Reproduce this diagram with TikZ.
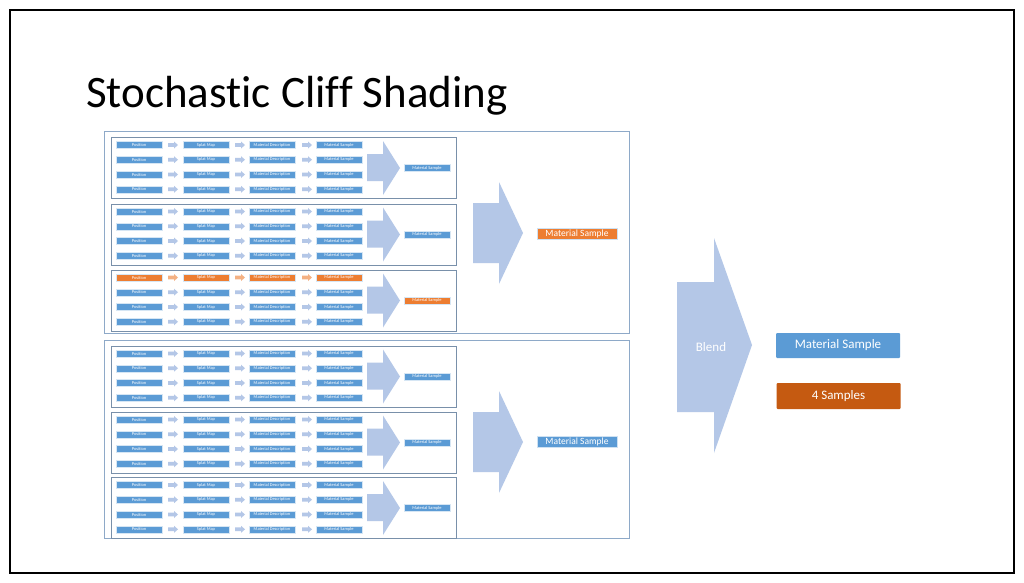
\documentclass[tikz,border=0pt]{standalone}
\usepackage{fontspec}
\setmainfont[Ligatures=NoCommon]{Carlito}
\definecolor{boxblue}{HTML}{5B9BD5}
\definecolor{boxorange}{HTML}{ED7D31}
\definecolor{darkorange}{HTML}{C55A11}
\definecolor{arrowblue}{HTML}{B4C7E7}
\definecolor{arroworange}{HTML}{F4B183}
\definecolor{framecol}{HTML}{8EA9C8}
\tikzset{
  minibox/.style={minimum width=46pt, minimum height=7pt, inner sep=0pt, draw=white!75!boxblue, line width=0.25pt, text=white, font=\fontsize{4.4}{5}\selectfont},
  midbox/.style={minimum width=80pt, minimum height=11pt, inner sep=0pt, draw=white!70!boxblue, line width=0.4pt, text=white, font=\fontsize{9.5}{10}\selectfont},
  bigbox/.style={minimum width=124pt, minimum height=25pt, inner sep=0pt, rounded corners=1pt, text=white, font=\fontsize{13}{15}\selectfont},
  groupframe/.style={draw=framecol, line width=1.1pt, inner sep=0pt},
  subframe/.style={draw=framecol!85!black, line width=1.1pt, inner sep=0pt},
}
% #1 name, #2 y centre, #3 box colour, #4 arrow colour
\newcommand{\prow}[4]{%
  \node[minibox, fill=#3] (#1p) at (139,#2) {Position};
  \node[minibox, fill=#3] (#1s) at (206,#2) {Splat Map};
  \node[minibox, fill=#3] (#1d) at (272,#2) {Material Description};
  \node[minibox, fill=#3] (#1m) at (339,#2) {Material Sample};
  \foreach \xa in {168,235,302}{
    \fill[#4] (\xa,#2-1.9) -- (\xa+6,#2-1.9) -- (\xa+6,#2-3.5) -- (\xa+10,#2) -- (\xa+6,#2+3.5) -- (\xa+6,#2+1.9) -- (\xa,#2+1.9) -- cycle;}
}
% #1 name, #2 top, #3 first row box colour, #4 first row arrow colour, #5 result colour
\newcommand{\subgroup}[5]{%
  \node[subframe, minimum width=345pt, minimum height=61pt, anchor=north west] (#1) at (111,#2) {};
  \prow{#1a}{#2+8}{#3}{#4}
  \prow{#1b}{#2+22.7}{boxblue}{arrowblue}
  \prow{#1c}{#2+37.5}{boxblue}{arrowblue}
  \prow{#1e}{#2+52.3}{boxblue}{arrowblue}
  \fill[arrowblue] (367,#2+17) -- (383,#2+17) -- (383,#2+4) -- (400,#2+31) -- (383,#2+58) -- (383,#2+44) -- (367,#2+44) -- cycle;
  \node[minibox, fill=#5] (#1r) at (427,#2+31) {Material Sample};
}
\newcommand{\grouparrow}[1]{%
  \fill[arrowblue] (473,#1-30) -- (499,#1-30) -- (499,#1-51) -- (523,#1) -- (499,#1+51) -- (499,#1+30) -- (473,#1+30) -- cycle;}
\begin{document}
\begin{tikzpicture}[x=1pt,y=-1pt]
\useasboundingbox (0,0) rectangle (1024,582);
\fill[white] (0,0) rectangle (1024,582);
\draw[line width=1.6pt] (10,10) rectangle (1014,573);
\node[anchor=base west, inner sep=0pt, font=\fontsize{45}{50}\selectfont] (title) at (86,107) {Stochastic Cliff Shading};

\node[groupframe, minimum width=525pt, minimum height=202pt, anchor=north west] (g1) at (104,131) {};
\node[groupframe, minimum width=525pt, minimum height=198pt, anchor=north west] (g2) at (104,340) {};

\subgroup{sa}{137}{boxblue}{arrowblue}{boxblue}
\subgroup{sb}{203.5}{boxblue}{arrowblue}{boxblue}
\subgroup{sc}{269.5}{boxorange}{arroworange}{boxorange}
\subgroup{sd}{345.5}{boxblue}{arrowblue}{boxblue}
\subgroup{se}{411.5}{boxblue}{arrowblue}{boxblue}
\subgroup{sf}{477}{boxblue}{arrowblue}{boxblue}

\grouparrow{233}
\grouparrow{442}
\node[midbox, fill=boxorange] (r1) at (577,233.5) {Material Sample};
\node[midbox, fill=boxblue] (r2) at (577,441.5) {Material Sample};

\fill[arrowblue] (677,282) -- (714,282) -- (714,238) -- (752,345) -- (714,453) -- (714,412) -- (677,412) -- cycle;
\node[text=white, font=\fontsize{13}{15}\selectfont] (blend) at (711,347) {Blend};

\node[bigbox, fill=boxblue] (final) at (838,345.5) {Material Sample};
\node[bigbox, fill=darkorange, minimum height=26pt] (four) at (838.5,396) {4 Samples};
\end{tikzpicture}
\end{document}
